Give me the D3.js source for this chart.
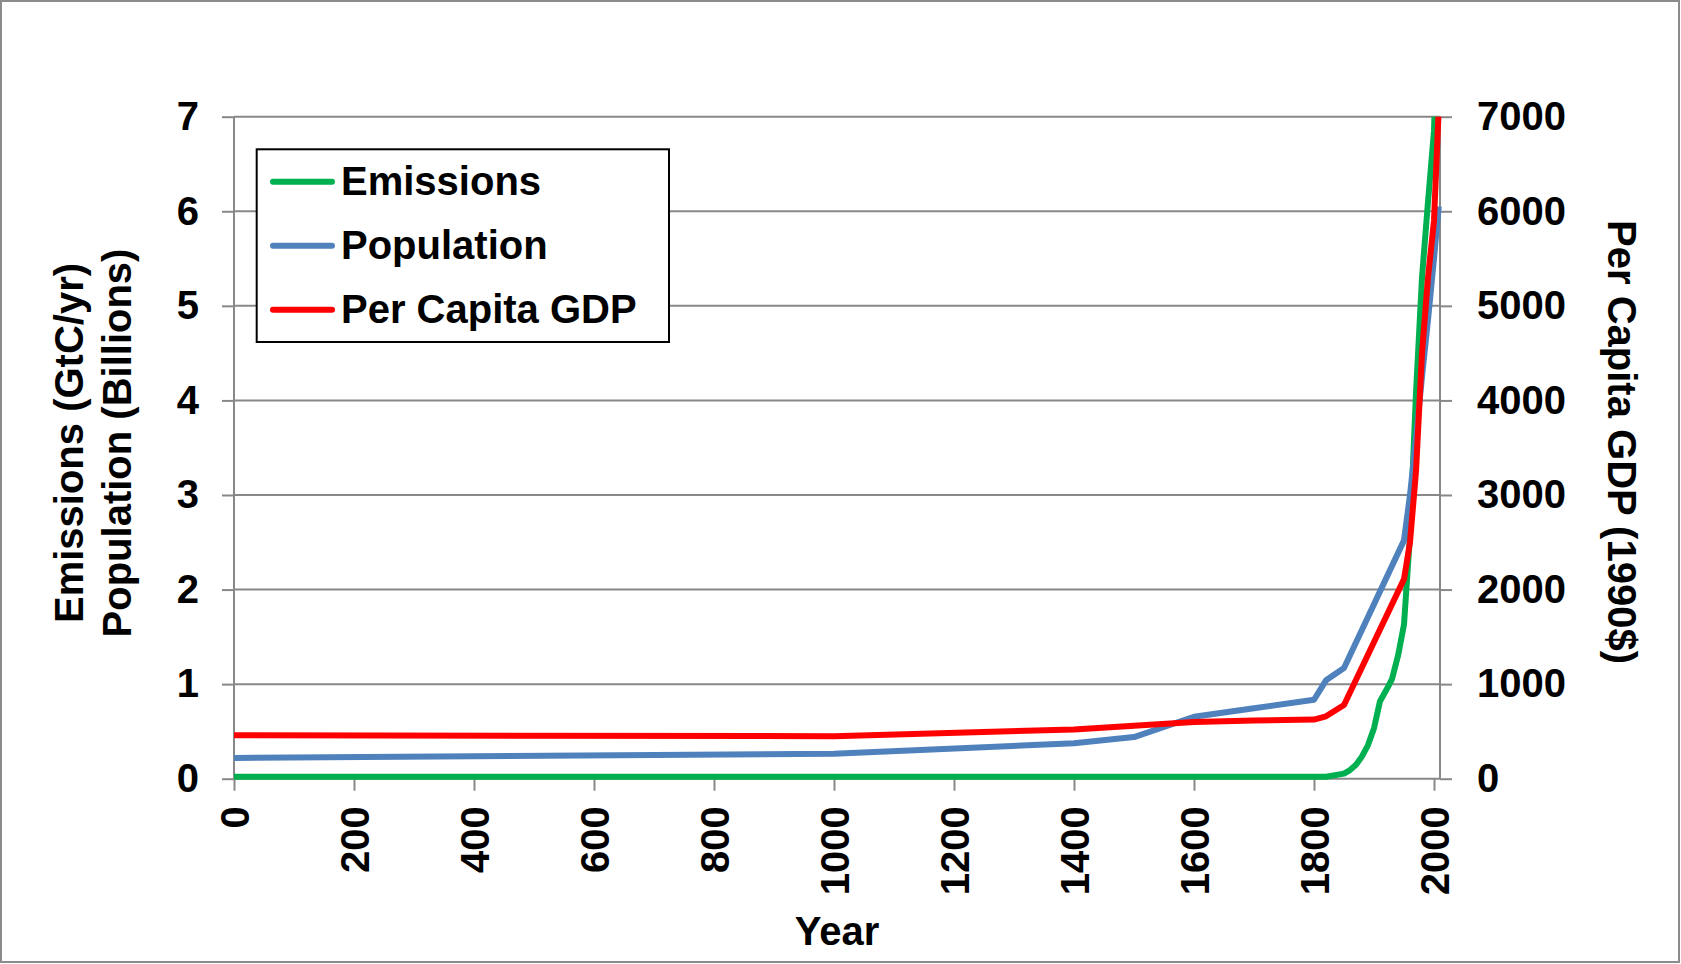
<!DOCTYPE html>
<html><head><meta charset="utf-8">
<script src="https://cdn.jsdelivr.net/npm/d3@7"></script>
<style>
body{margin:0;background:#fff;}
svg{display:block;font-family:"Liberation Sans",Arial,Helvetica,sans-serif;font-weight:bold;}
</style></head><body>
<svg id="chart" width="1681" height="964"></svg>
<script>
// ---- data ----
const yearTicks = [0,200,400,600,800,1000,1200,1400,1600,1800,2000];
const leftTicks = [0,1,2,3,4,5,6,7];
const rightTicks = [0,1000,2000,3000,4000,5000,6000,7000];

const emissionYears  = [0,1000,1500,1750,1800,1820,1850,1860,1870,1880,1890,1900,1910,1920,1930,1940,1950,1960,1970,1980,1990,2000,2005];
const emissionValues = [0.02,0.02,0.02,0.02,0.02,0.02,0.054,0.091,0.147,0.236,0.356,0.534,0.819,0.932,1.053,1.299,1.63,2.577,4.076,5.299,6.1,6.85,7.9];

const popYears  = [0,1000,1400,1500,1600,1700,1800,1820,1850,1950,1960,1970,1980,1990,2000,2008];
const popValues = [0.22,0.265,0.375,0.44,0.655,0.745,0.835,1.04,1.17,2.52,3.0,3.6,4.25,4.85,5.5,6.05];

const gdpYears  = [0,1000,1400,1500,1600,1700,1800,1820,1850,1950,1960,1970,1980,1990,2000,2008];
const gdpValues = [460,450,520,560,600,615,625,660,780,2110,2500,3250,4500,5300,5900,7100];

const seriesNames  = ["Emissions","Population","Per Capita GDP"];
const seriesColors = ["#00B050","#4F81BD","#FF0000"];

// ---- layout ----
const W = 1681, H = 964;
const L = 234, R = 1440, T = 116.7, B = 778.7;
const gridColor = "#888888";
const fontSize = 40;

const svg = d3.select("#chart");
const x  = d3.scaleLinear().domain([0,2010]).range([L,R]);
const yL = d3.scaleLinear().domain([0,7]).range([B,T]);
const yR = d3.scaleLinear().domain([0,7000]).range([B,T]);

// outer border
svg.append("rect").attr("x",1).attr("y",1).attr("width",W-3).attr("height",H-3)
  .attr("fill","#fff").attr("stroke","#8c8c8c").attr("stroke-width",2);

// horizontal gridlines
svg.append("g").selectAll("line").data(leftTicks).join("line")
  .attr("x1",L).attr("x2",R).attr("y1",d=>yL(d)).attr("y2",d=>yL(d))
  .attr("stroke",gridColor).attr("stroke-width",2);

// axis lines
svg.append("line").attr("x1",L).attr("x2",L).attr("y1",T).attr("y2",B)
  .attr("stroke",gridColor).attr("stroke-width",2);
svg.append("line").attr("x1",R).attr("x2",R).attr("y1",T).attr("y2",B)
  .attr("stroke",gridColor).attr("stroke-width",2);

function styleAxis(g){
  g.select(".domain").remove();
  g.selectAll(".tick line").attr("stroke",gridColor).attr("stroke-width",2);
  g.selectAll(".tick text").attr("fill","#000").attr("font-size",fontSize)
    .attr("font-weight","bold").attr("font-family",'"Liberation Sans",Arial,sans-serif');
}

// left axis
svg.append("g").attr("transform",`translate(${L},0)`)
  .call(d3.axisLeft(yL).tickValues(leftTicks).tickSize(12).tickPadding(23).tickFormat(d3.format("d")))
  .call(styleAxis);

// right axis
svg.append("g").attr("transform",`translate(${R},0)`)
  .call(d3.axisRight(yR).tickValues(rightTicks).tickSize(12).tickPadding(25).tickFormat(d3.format("d")))
  .call(styleAxis);

// bottom axis
const xg = svg.append("g").attr("transform",`translate(0,${B})`)
  .call(d3.axisBottom(x).tickValues(yearTicks).tickSize(12).tickFormat(d3.format("d")))
  .call(styleAxis);
xg.selectAll(".tick text")
  .attr("transform","rotate(-90)")
  .attr("x",-27.5).attr("y",0).attr("dy","0.36em")
  .attr("text-anchor","end");

// clip
svg.append("defs").append("clipPath").attr("id","plotclip")
  .append("rect").attr("x",0).attr("y",T).attr("width",W).attr("height",H-T);

const lineL = d3.line().x(d=>x(d[0])).y(d=>yL(d[1]));
const lineR = d3.line().x(d=>x(d[0])).y(d=>yR(d[1]));

const plot = svg.append("g").attr("clip-path","url(#plotclip)");
const emData  = emissionYears.map((yr,i)=>[yr,emissionValues[i]]);
const popData = popYears.map((yr,i)=>[yr,popValues[i]]);
const gdpData = gdpYears.map((yr,i)=>[yr,gdpValues[i]]);

[[emData,lineL,0],[popData,lineL,1],[gdpData,lineR,2]].forEach(([d,gen,i])=>{
  plot.append("path").datum(d).attr("d",gen)
    .attr("fill","none").attr("stroke",seriesColors[i]).attr("stroke-width",6)
    .attr("stroke-linejoin","round").attr("stroke-linecap","butt");
});

// legend
const lg = svg.append("g");
lg.append("rect").attr("x",256.7).attr("y",149.3).attr("width",412.3).attr("height",192.7)
  .attr("fill","#fff").attr("stroke","#000").attr("stroke-width",2);
seriesNames.forEach((name,i)=>{
  const cy = 181.7 + i*64;
  lg.append("line").attr("x1",273).attr("x2",332).attr("y1",cy).attr("y2",cy)
    .attr("stroke",seriesColors[i]).attr("stroke-width",6).attr("stroke-linecap","round");
  lg.append("text").attr("x",341).attr("y",cy+13.3).attr("font-size",fontSize).text(name);
});

// axis titles
svg.append("text").attr("transform","translate(83,443) rotate(-90)")
  .attr("text-anchor","middle").attr("font-size",fontSize).text("Emissions (GtC/yr)");
svg.append("text").attr("transform","translate(130.5,443) rotate(-90)")
  .attr("text-anchor","middle").attr("font-size",fontSize).text("Population (Billions)");
svg.append("text").attr("transform","translate(1608,442) rotate(90)")
  .attr("text-anchor","middle").attr("font-size",fontSize).text("Per Capita GDP (1990$)");
svg.append("text").attr("x",837).attr("y",945)
  .attr("text-anchor","middle").attr("font-size",fontSize).text("Year");
</script>
</body></html>
